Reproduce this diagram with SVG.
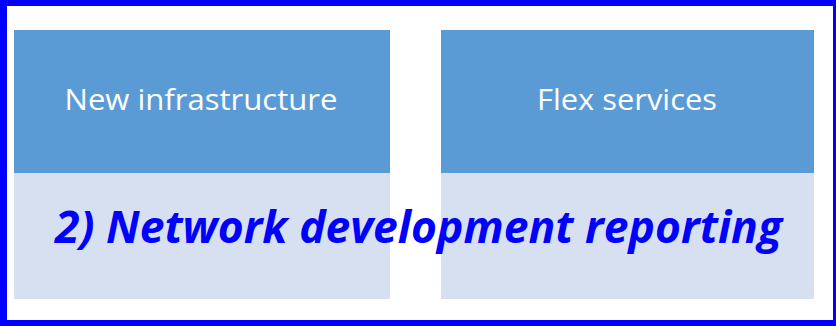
<svg xmlns="http://www.w3.org/2000/svg" width="836" height="326" viewBox="0 0 836 326">
  <style>
    .top { fill: #5B9BD5; }
    .bot { fill: #D6E0F0; }
    .lbl { font-family: "Open Sans", "Liberation Sans", sans-serif; font-size: 29px; fill: #FFFFFF; text-anchor: middle; }
    .main { font-family: "Open Sans", "Liberation Sans", sans-serif; font-size: 44px; font-weight: bold; font-style: italic; fill: #0000FF; }
  </style>
  <rect x="0" y="0" width="836" height="326" fill="#FFFFFF"/>
  <path d="M0 0H836V326H0Z M7 6V320H833V6Z" fill="#0000FF" fill-rule="evenodd"/>
  <g id="new-infrastructure">
    <rect class="top" x="14" y="30" width="376" height="143"/>
    <rect class="bot" x="14" y="173" width="376" height="126"/>
    <text class="lbl" x="201" y="110" textLength="273" lengthAdjust="spacingAndGlyphs">New infrastructure</text>
  </g>
  <g id="flex-services">
    <rect class="top" x="441" y="30" width="373" height="143"/>
    <rect class="bot" x="441" y="173" width="373" height="126"/>
    <text class="lbl" x="627" y="110" textLength="180" lengthAdjust="spacingAndGlyphs">Flex services</text>
  </g>
  <g id="connectors"/>
  <text class="main" x="55" y="243" textLength="727" lengthAdjust="spacingAndGlyphs">2) Network development reporting</text>
</svg>
